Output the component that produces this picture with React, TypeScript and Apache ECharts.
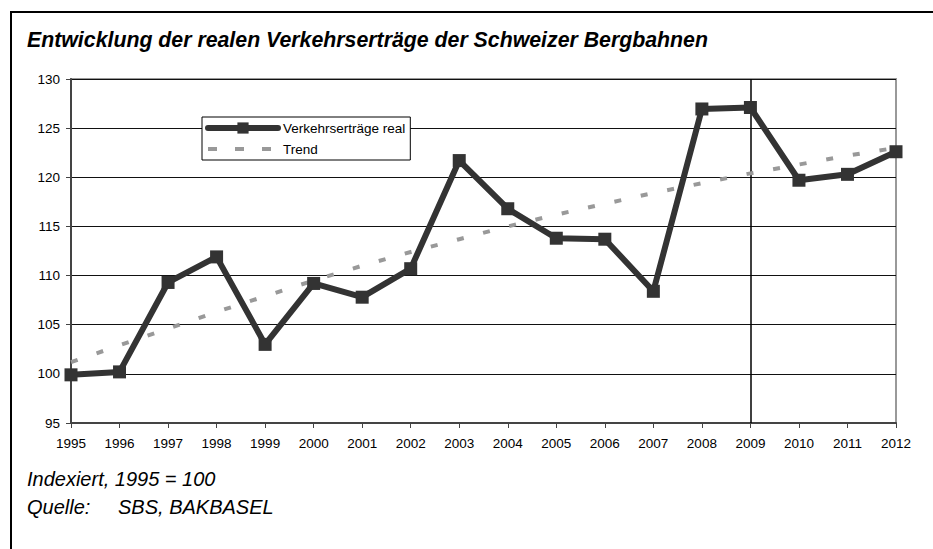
import React, { useEffect, useRef } from "react";
import * as echarts from "echarts";

const years = ["1995","1996","1997","1998","1999","2000","2001","2002","2003","2004","2005","2006","2007","2008","2009","2010","2011","2012"];
const verkehrsertraegeReal = [99.9,100.2,109.3,111.9,103.0,109.2,107.8,110.7,121.7,116.8,113.8,113.7,108.4,126.95,127.1,119.7,120.3,122.6];
const trend = [101.2,102.9,104.6,106.3,107.9,109.5,111.0,112.4,113.7,115.0,116.2,117.3,118.4,119.4,120.4,121.3,122.2,123.0];
const markYear = "2009";

const FONT = "'Liberation Sans', Arial, sans-serif";

export default function App() {
  const ref = useRef<HTMLDivElement>(null);
  useEffect(() => {
    const chart = echarts.init(ref.current!, null, { renderer: "svg" });
    chart.setOption({
      animation: false,
      backgroundColor: "#fff",
      textStyle: { fontFamily: FONT },
      grid: {
        left: 71, right: 37, top: 79, bottom: 126,
        show: true, borderColor: "#999", borderWidth: 2, containLabel: false,
      },
      legend: {
        orient: "vertical",
        left: 202, top: 117,
        backgroundColor: "#fff",
        borderColor: "#000", borderWidth: 1,
        padding: [4, 5, 4, 3],
        itemGap: 7, itemWidth: 70, itemHeight: 14,
        textStyle: { fontFamily: FONT, fontSize: 13.5, color: "#000" },
        data: [
          { name: "Verkehrserträge real", lineStyle: { width: 6, cap: "round", color: "#333" }, itemStyle: { color: "#333" } },
          { name: "Trend", itemStyle: { opacity: 0 }, lineStyle: { width: 4, color: "#999", type: [9, 18] } },
        ],
      },
      xAxis: {
        type: "category",
        data: years,
        boundaryGap: false,
        axisLine: { lineStyle: { color: "#444", width: 2 } },
        axisTick: { show: true, length: 5, inside: false, lineStyle: { color: "#444" } },
        axisLabel: { color: "#000", fontSize: 13.5, fontFamily: FONT, margin: 13 },
        splitLine: { show: false },
      },
      yAxis: {
        type: "value",
        min: 95, max: 130, interval: 5,
        axisLine: { show: true, lineStyle: { color: "#444", width: 2 } },
        axisTick: { show: true, length: 5, lineStyle: { color: "#444" } },
        axisLabel: { color: "#000", fontSize: 13.5, fontFamily: FONT, margin: 11 },
        splitLine: { show: true, lineStyle: { color: "#111", width: 1 } },
      },
      series: [
        {
          name: "Trend",
          type: "line",
          data: trend,
          symbol: "none",
          color: "#999",
          lineStyle: { color: "#999", width: 4, type: [7, 20] },
          z: 2,
        },
        {
          name: "Verkehrserträge real",
          type: "line",
          data: verkehrsertraegeReal,
          symbol: "rect",
          symbolSize: 13,
          color: "#333",
          itemStyle: { color: "#333" },
          lineStyle: { color: "#333", width: 6 },
          z: 3,
          markLine: {
            silent: true,
            symbol: "none",
            label: { show: false },
            lineStyle: { color: "#000", width: 1.5, type: "solid" },
            data: [{ xAxis: markYear }],
            z: 1,
          },
        },
      ],
      graphic: [
        {
          type: "rect",
          shape: { x: 11, y: 12, width: 1000, height: 600 },
          style: { fill: "none", stroke: "#000", lineWidth: 2 },
          silent: true, z: 100,
        },
        {
          type: "text", left: 27, top: 29,
          style: { text: "Entwicklung der realen Verkehrserträge der Schweizer Bergbahnen", font: `italic bold 21.3px ${FONT}`, fill: "#000" },
        },
        {
          type: "text", left: 27, top: 469,
          style: { text: "Indexiert, 1995 = 100", font: `italic 20px ${FONT}`, fill: "#000" },
        },
        {
          type: "text", left: 27, top: 497,
          style: { text: "Quelle:", font: `italic 20px ${FONT}`, fill: "#000" },
        },
        {
          type: "text", left: 118, top: 497,
          style: { text: "SBS, BAKBASEL", font: `italic 20px ${FONT}`, fill: "#000" },
        },
      ],
    });
    return () => chart.dispose();
  }, []);
  return <div ref={ref} style={{ width: 933, height: 549, position: "absolute", left: 0, top: 0 }} />;
}
